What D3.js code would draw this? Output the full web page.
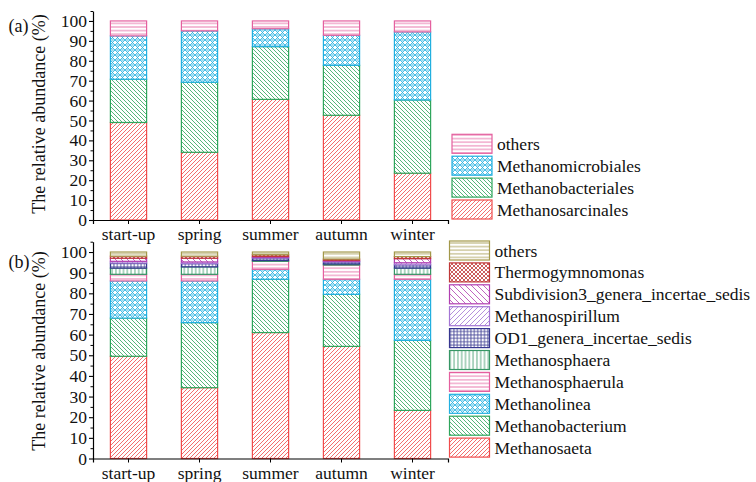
<!DOCTYPE html>
<html><head><meta charset="utf-8">
<script src="https://cdn.jsdelivr.net/npm/d3@7"></script>
<style>
html,body{margin:0;padding:0;background:#fff;}
</style></head>
<body>
<svg id="chart" width="756" height="482"></svg>
<script>
const categories = ["start-up","spring","summer","autumn","winter"];
const yTicks = [0,10,20,30,40,50,60,70,80,90,100];

// panel (a) — orders
const seriesA = ["Methanosarcinales","Methanobacteriales","Methanomicrobiales","others"];
const Methanosarcinales  = [49.0, 34.0, 60.6, 52.6, 23.5];
const Methanobacteriales = [21.7, 35.2, 26.5, 25.1, 36.8];
const Methanomicrobiales = [21.8, 25.8,  9.0, 15.1, 34.2];
const othersA            = [ 7.5,  5.0,  3.9,  7.2,  5.5];

// panel (b) — genera
const seriesB = ["Methanosaeta","Methanobacterium","Methanolinea","Methanosphaerula","Methanosphaera",
  "OD1_genera_incertae_sedis","Methanospirillum","Subdivision3_genera_incertae_sedis","Thermogymnomonas","others"];
const Methanosaeta      = [49.5, 34.3, 61.0, 54.3, 23.3];
const Methanobacterium  = [18.5, 31.5, 25.8, 25.2, 33.9];
const Methanolinea      = [18.0, 20.2,  4.8,  7.3, 29.6];
const Methanosphaerula  = [ 3.2,  3.2,  3.9,  6.9,  2.4];
const Methanosphaera    = [ 3.0,  3.6,  0.4,  0.5,  3.0];
const OD1               = [ 2.5,  1.6,  1.2,  1.0,  1.6];
const Methanospirillum  = [ 0.8,  0.8,  0.3,  0.3,  1.0];
const Subdivision3      = [ 1.5,  1.8,  0.5,  0.5,  2.0];
const Thermogymnomonas  = [ 1.0,  1.0,  0.8,  0.6,  1.0];
const othersB           = [ 2.0,  2.0,  1.3,  3.4,  2.2];

const valuesA = [Methanosarcinales, Methanobacteriales, Methanomicrobiales, othersA];
const valuesB = [Methanosaeta, Methanobacterium, Methanolinea, Methanosphaerula, Methanosphaera,
  OD1, Methanospirillum, Subdivision3, Thermogymnomonas, othersB];

const styleA = [
  {c:"#f04c4c", p:"diagR", s:4},
  {c:"#2fa55c", p:"diagL", s:4},
  {c:"#22b0e0", p:"mesh",  s:5},
  {c:"#e4609f", p:"horiz", s:3.6}
];
const styleB = [
  {c:"#f04c4c", p:"diagR", s:4},
  {c:"#2fa55c", p:"diagL", s:4},
  {c:"#22b0e0", p:"mesh",  s:5},
  {c:"#e4609f", p:"horiz", s:3.6},
  {c:"#369665", p:"vert",  s:3.8},
  {c:"#36368f", p:"grid",  s:3.4},
  {c:"#a475d4", p:"diagR", s:5},
  {c:"#b13fb1", p:"diagL", s:6},
  {c:"#bf3838", p:"cross", s:4},
  {c:"#a3984a", p:"horiz", s:3.6}
];

const FONT = '"Liberation Serif"';
const svg = d3.select("#chart");
const defs = svg.append("defs");

function makePattern(id, st){
  const s = st.s;
  const p = defs.append("pattern").attr("id", id)
    .attr("patternUnits","userSpaceOnUse").attr("width", s).attr("height", s);
  p.append("rect").attr("width", s).attr("height", s).attr("fill","#fff");
  const g = p.append("g").attr("stroke", st.c).attr("stroke-width", 0.9).attr("fill","none").attr("stroke-opacity",0.9);
  if (st.p === "diagR") g.append("path").attr("d",`M${-s/2},${s/2} L${s/2},${-s/2} M0,${s} L${s},0 M${s/2},${s*1.5} L${s*1.5},${s/2}`);
  if (st.p === "diagL") g.append("path").attr("d",`M${-s/2},${s/2} L${s/2},${s*1.5} M0,0 L${s},${s} M${s/2},${-s/2} L${s*1.5},${s/2}`);
  if (st.p === "horiz") g.append("path").attr("d",`M0,${s/2} H${s}`);
  if (st.p === "vert") g.append("path").attr("d",`M${s/2},0 V${s}`);
  if (st.p === "grid") g.append("path").attr("d",`M0,${s/2} H${s} M${s/2},0 V${s}`);
  if (st.p === "cross") g.append("path").attr("d",`M0,0 L${s},${s} M${s},0 L0,${s}`);
  if (st.p === "mesh") {
    g.append("path").attr("d",`M0,0 L${s},${s} M${s},0 L0,${s}`);
    p.append("circle").attr("cx", s/2).attr("cy", 0).attr("r", 0.9).attr("fill","none").attr("stroke",st.c).attr("stroke-width",0.6);
    p.append("circle").attr("cx", s/2).attr("cy", s).attr("r", 0.9).attr("fill","none").attr("stroke",st.c).attr("stroke-width",0.6);
  }
}
styleA.forEach((st,i)=>makePattern("pa"+i, st));
styleB.forEach((st,i)=>makePattern("pb"+i, st));

const x = d3.scaleBand().domain(categories).range([93, 448]).paddingInner(0.49).paddingOuter(0.245);

function setFont(sel, size){
  sel.style("font-family", FONT).style("font-size", size).attr("fill", "#111");
}

function panel(cfg){
  const {series, values, styles, pid, y0, y1, label, labelY, titleY, legendTop} = cfg;
  const y = d3.scaleLinear().domain([0,105]).range([y0, y1]);
  const g = svg.append("g");

  const rows = categories.map((c,i)=>{
    const r = {cat:c};
    series.forEach((s,k)=> r[s] = values[k][i]);
    return r;
  });
  const stacked = d3.stack().keys(series)(rows);

  stacked.forEach((layer,k)=>{
    g.append("g").selectAll("rect").data(layer).join("rect")
      .attr("x", d=>x(d.data.cat))
      .attr("width", x.bandwidth())
      .attr("y", d=>y(d[1]))
      .attr("height", d=>Math.max(0, y(d[0]) - y(d[1])))
      .attr("fill", `url(#${pid}${k})`)
      .attr("stroke", styles[k].c)
      .attr("stroke-width", 1.2);
  });

  const ya = d3.axisLeft(y).tickValues(yTicks).tickSize(4).tickSizeOuter(0).tickPadding(2);
  const yg = g.append("g").attr("transform","translate(93,0)").call(ya);
  yg.attr("font-family", null);
  yg.select(".domain").attr("stroke-width",1.2);
  yg.selectAll(".tick line").attr("stroke-width",1.1);
  setFont(yg.selectAll("text"), "17.5px");
  const minor = d3.axisLeft(y).tickValues(d3.range(5,106,10)).tickSize(2.5).tickFormat("").tickSizeOuter(0);
  const mg = g.append("g").attr("transform","translate(93,0)").call(minor);
  mg.select(".domain").remove();

  const xa = d3.axisBottom(x).tickSize(4).tickSizeOuter(4).tickPadding(4);
  const xg = g.append("g").attr("transform",`translate(0,${y0})`).call(xa);
  xg.attr("font-family", null);
  xg.select(".domain").attr("stroke-width",1.2);
  setFont(xg.selectAll("text"), "17.5px");

  setFont(g.append("text").attr("transform",`translate(45,${titleY}) rotate(-90)`)
    .attr("text-anchor","middle").text("The relative abundance (%)"), "18px");
  setFont(g.append("text").attr("x",8.5).attr("y",labelY).text(label), "18px");

  const step = cfg.legendStep;
  const lg = g.append("g");
  const order = series.map((s,k)=>k).reverse();
  order.forEach((k,j)=>{
    const ty = legendTop + j*step;
    lg.append("rect").attr("x", cfg.legendX).attr("y", ty).attr("width", 40).attr("height", 19)
      .attr("fill", `url(#${pid}${k})`).attr("stroke", styles[k].c).attr("stroke-width",1.2);
    setFont(lg.append("text").attr("x", cfg.legendX + 45).attr("y", ty + 15.5).text(series[k]), "17.5px");
  });
}

panel({series:seriesA, values:valuesA, styles:styleA, pid:"pa", y0:220, y1:11,
  label:"(a)", labelY:31.5, titleY:114, legendTop:134.3, legendStep:21.9, legendX:452});
panel({series:seriesB, values:valuesB, styles:styleB, pid:"pb", y0:458.5, y1:241.7,
  label:"(b)", labelY:268, titleY:351, legendTop:241, legendStep:21.9, legendX:449.5});
</script>
</body></html>
